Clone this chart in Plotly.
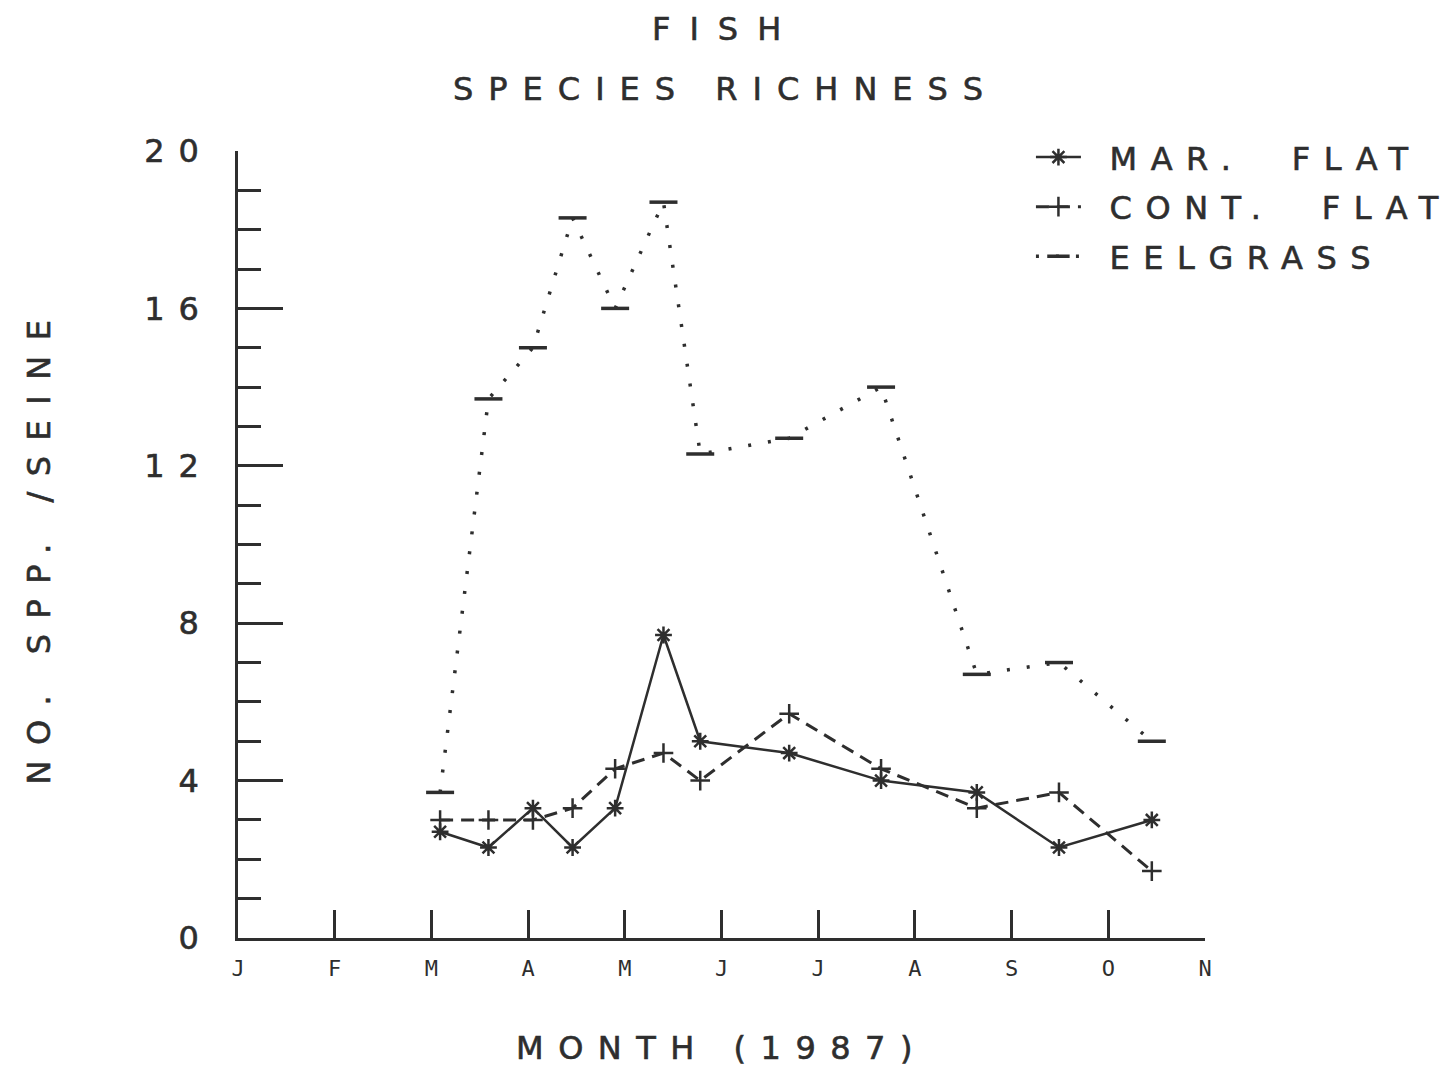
import plotly.graph_objects as go

# Sampling dates as month positions (0 = 1 Jan 1987, 10 = 1 Nov 1987)
sample_month = [2.09, 2.59, 3.05, 3.46, 3.90, 4.40, 4.78, 5.70, 6.65, 7.64, 8.49, 9.45]

# Mean number of fish species per seine haul
mar_flat = [2.7, 2.3, 3.3, 2.3, 3.3, 7.7, 5.0, 4.7, 4.0, 3.7, 2.3, 3.0]
cont_flat = [3.0, 3.0, 3.0, 3.3, 4.3, 4.7, 4.0, 5.7, 4.3, 3.3, 3.7, 1.7]
eelgrass = [3.7, 13.7, 15.0, 18.3, 16.0, 18.7, 12.3, 12.7, 14.0, 6.7, 7.0, 5.0]

month_ticks = [0, 1, 2, 3, 4, 5, 6, 7, 8, 9, 10]
month_labels = ["J", "F", "M", "A", "M", "J", "J", "A", "S", "O", "N"]
y_ticks = [0, 4, 8, 12, 16, 20]

INK = "#2e2e2e"
FONT = "DejaVu Sans"
BIG = 32


def spaced(text, px):
    # wide plotter-style lettering with a slightly heavier stroke
    return (f"<span style='letter-spacing:{px}px;stroke:{INK};"
            f"stroke-width:0.6px'>{text}</span>")


fig = go.Figure()

fig.add_trace(go.Scatter(
    x=sample_month, y=mar_flat, mode="lines+markers", legendgroup="a",
    name=spaced("&nbsp;MAR.&nbsp;&nbsp;FLAT", 13.5),
    line=dict(color=INK, width=2.5, dash="solid"),
    marker=dict(symbol="asterisk-open", size=14, line=dict(color=INK, width=2.5)),
))
fig.add_trace(go.Scatter(
    x=sample_month, y=cont_flat, mode="lines+markers", legendgroup="b",
    name=spaced("&nbsp;CONT.&nbsp;&nbsp;FLAT", 13.5),
    line=dict(color=INK, width=3, dash="13px,8px"),
    marker=dict(symbol="cross-thin-open", size=14, line=dict(color=INK, width=2.5)),
))
fig.add_trace(go.Scatter(
    x=sample_month, y=eelgrass, mode="lines+markers", legendgroup="c",
    name=spaced("&nbsp;EELGRASS", 13.5),
    line=dict(color=INK, width=3.5, dash="3px,17px"),
    marker=dict(symbol="line-ew-open", size=20, line=dict(color=INK, width=3.5)),
))

fig.add_annotation(text=spaced("FISH", 19), x=0.505, y=1.155, xref="paper", yref="paper",
                   xanchor="center", yanchor="middle", showarrow=False,
                   font=dict(family=FONT, size=BIG, color=INK))
fig.add_annotation(text=spaced("SPECIES RICHNESS", 15), x=0.504, y=1.0788, xref="paper", yref="paper",
                   xanchor="center", yanchor="middle", showarrow=False,
                   font=dict(family=FONT, size=BIG, color=INK))

fig.update_layout(
    width=1454, height=1067,
    margin=dict(l=238, r=249, t=151, b=129, autoexpand=False),
    paper_bgcolor="white", plot_bgcolor="white",
    font=dict(family=FONT, color=INK),
    showlegend=True,
    legend=dict(x=0.82, y=1.027, xanchor="left", yanchor="top",
                bgcolor="rgba(0,0,0,0)", borderwidth=0,
                font=dict(family=FONT, size=BIG, color=INK),
                itemwidth=45, traceorder="grouped", tracegroupgap=5),
    xaxis=dict(
        range=[0, 10], showgrid=False, zeroline=False,
        showline=True, linecolor=INK, linewidth=2.5,
        ticks="inside", ticklen=28, tickwidth=2.5, tickcolor=INK,
        tickvals=month_ticks, ticktext=month_labels,
        tickfont=dict(family="DejaVu Sans Mono", size=22, color=INK),
        ticklabelstandoff=9,
        title=dict(text=spaced("MONTH (1987)", 14.5), standoff=60,
                   font=dict(family=FONT, size=BIG, color=INK)),
    ),
    yaxis=dict(
        range=[0, 20], showgrid=False, zeroline=False,
        showline=True, linecolor=INK, linewidth=2.5,
        ticks="inside", ticklen=45, tickwidth=2.5, tickcolor=INK,
        tickvals=y_ticks, ticktext=[spaced(str(v), 14) for v in y_ticks],
        tickfont=dict(family=FONT, size=BIG, color=INK),
        ticklabelstandoff=16,
        minor=dict(dtick=1, ticks="inside", ticklen=23, tickwidth=2.5, tickcolor=INK, showgrid=False),
        title=dict(text=spaced("NO. SPP. /SEINE", 15.5), standoff=84,
                   font=dict(family=FONT, size=BIG, color=INK)),
    ),
)

fig.write_html("out.html")
